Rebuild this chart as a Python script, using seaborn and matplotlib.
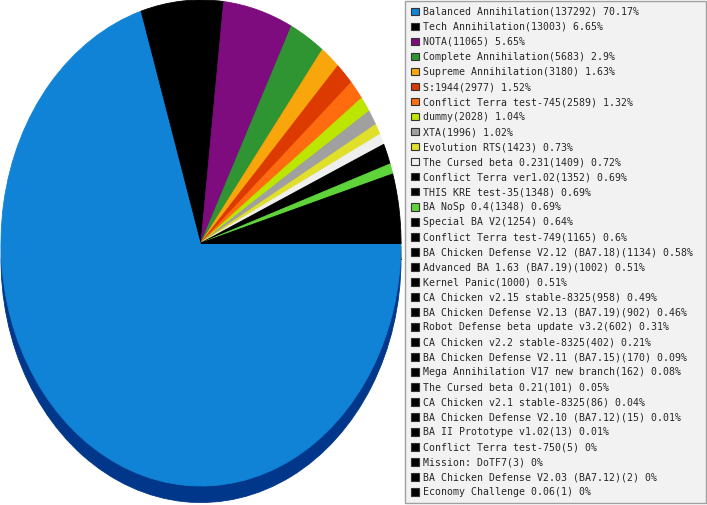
import colorsys

import matplotlib.pyplot as plt
import matplotlib.colors as mcolors
from matplotlib.patches import Patch
import seaborn as sns

# Game counts per mod
mods = [
    "Balanced Annihilation", "Tech Annihilation", "NOTA", "Complete Annihilation",
    "Supreme Annihilation", "S:1944", "Conflict Terra test-745", "dummy", "XTA",
    "Evolution RTS", "The Cursed beta 0.231", "Conflict Terra ver1.02",
    "THIS KRE test-35", "BA NoSp 0.4", "Special BA V2", "Conflict Terra test-749",
    "BA Chicken Defense V2.12 (BA7.18)", "Advanced BA 1.63 (BA7.19)", "Kernel Panic",
    "CA Chicken v2.15 stable-8325", "BA Chicken Defense V2.13 (BA7.19)",
    "Robot Defense beta update v3.2", "CA Chicken v2.2 stable-8325",
    "BA Chicken Defense V2.11 (BA7.15)", "Mega Annihilation V17 new branch",
    "The Cursed beta 0.21", "CA Chicken v2.1 stable-8325",
    "BA Chicken Defense V2.10 (BA7.12)", "BA II Prototype v1.02",
    "Conflict Terra test-750", "Mission: DoTF7", "BA Chicken Defense V2.03 (BA7.12)",
    "Economy Challenge 0.06",
]
games = [
    137292, 13003, 11065, 5683, 3180, 2977, 2589, 2028, 1996, 1423, 1409, 1352,
    1348, 1348, 1254, 1165, 1134, 1002, 1000, 958, 902, 602, 402, 170, 162, 101,
    86, 15, 13, 5, 3, 2, 1,
]
slice_colors = [
    "#1083d6", "#000000", "#7f0c7f", "#2e9532", "#f8a60c", "#dc3a00", "#ff6c10",
    "#bce600", "#a0a0a0", "#e0e02a", "#efefef", "#000000", "#000000", "#5fd33a",
] + ["#000000"] * 19


def darken(color):
    # deeper, more saturated shade for the side of the pie
    r, g, b = mcolors.to_rgb(color)
    h, l, s = colorsys.rgb_to_hls(r, g, b)
    return colorsys.hls_to_rgb((h + 0.03) % 1, l * 0.6, min(1.0, s * 1.16))


total = sum(games)
labels = [f"{m}({g}) {round(100 * g / total, 2):g}%" for m, g in zip(mods, games)]

sns.set_style("white")
plt.rcParams["font.family"] = ["DejaVu Sans Mono"]

fig = plt.figure(figsize=(7.07, 5.05), dpi=100)
ax = fig.add_axes([0, 0, 402 / 707, 1])

palette = sns.color_palette(slice_colors)
shadow = [darken(c) for c in palette]

# shadow layer, shifted down to look like the pie's thickness
back, _ = ax.pie(games, colors=shadow, startangle=0, counterclock=False,
                 center=(0, -0.068), wedgeprops=dict(linewidth=0.6))
front, _ = ax.pie(games, colors=palette, startangle=0, counterclock=False,
                  wedgeprops=dict(linewidth=0.6))
for w in back + front:
    w.set_edgecolor(w.get_facecolor())
ax.set_aspect("auto")
ax.set_xlim(-1.005, 1.005)
ax.set_ylim(-(505 - 243) / 243, 243 / 243)
ax.axis("off")

handles = [Patch(facecolor=c, edgecolor="#333333", linewidth=0.8) for c in palette]
leg = fig.legend(
    handles, labels, loc="upper left",
    bbox_to_anchor=(405 / 707, 504 / 505, 301 / 707, 0), mode="expand",
    fontsize=7.15, handlelength=0.8, handleheight=0.8, handletextpad=0.45,
    labelspacing=0.505, borderpad=0.6, borderaxespad=0, fancybox=False,
    framealpha=1, facecolor="#f2f2f2", edgecolor="#a0a0a0",
)
leg.get_frame().set_linewidth(1)

fig.savefig("out.png", dpi=100)
